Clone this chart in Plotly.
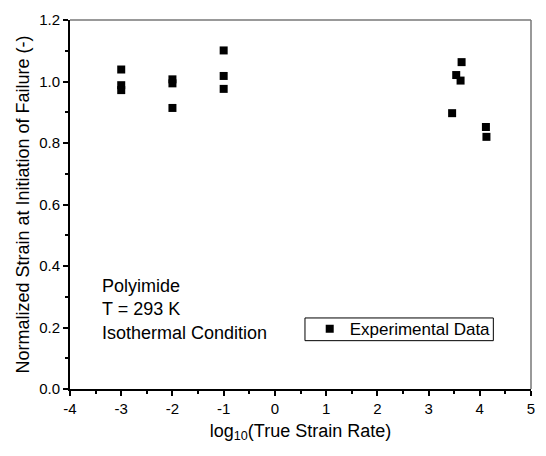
import plotly.graph_objects as go

log_rate = [-3, -3, -3, -2, -2, -2, -1, -1, -1, 3.645, 3.54, 3.625, 3.46, 4.12, 4.13]
norm_strain = [1.039, 0.988, 0.972, 1.007, 0.994, 0.914, 1.101, 1.018, 0.976,
               1.063, 1.021, 1.003, 0.897, 0.852, 0.820]

x_ticks = [-4, -3, -2, -1, 0, 1, 2, 3, 4, 5]
y_ticks = [0.0, 0.2, 0.4, 0.6, 0.8, 1.0, 1.2]

font = "Liberation Sans, Arial, sans-serif"

fig = go.Figure()
fig.add_trace(go.Scatter(
    x=log_rate, y=norm_strain, mode="markers", name="Experimental Data",
    marker=dict(symbol="square", size=8, color="black", line=dict(width=0)),
))

fig.update_layout(
    width=546, height=456,
    margin=dict(l=70, r=11, t=15, b=67),
    paper_bgcolor="white", plot_bgcolor="white",
    font=dict(family=font, size=14, color="black"),
    showlegend=True,
    legend=dict(x=0.52, y=0.162, xanchor="left", yanchor="middle",
                borderwidth=0, bgcolor="rgba(0,0,0,0)",
                font=dict(size=17), tracegroupgap=0),
    annotations=[dict(
        x=0.066, y=0.313, xref="paper", yref="paper", xanchor="left", yanchor="top",
        text="Polyimide<br>T = 293 K<br>Isothermal Condition",
        showarrow=False, align="left", font=dict(size=18, family=font))],
    shapes=[
        dict(type="line", xref="paper", yref="paper", x0=0, x1=1, y0=1, y1=1,
             line=dict(color="#777", width=1.5)),
        dict(type="line", xref="paper", yref="paper", x0=1, x1=1, y0=0, y1=1,
             line=dict(color="#777", width=1.5)),
        dict(type="rect", xref="paper", yref="paper", x0=0.5097, x1=0.9183,
             y0=0.131, y1=0.1925, line=dict(color="black", width=1), layer="below"),
    ],
)
fig.update_xaxes(
    range=[-4, 5], tickvals=x_ticks, ticktext=[str(v) for v in x_ticks],
    showline=True, linecolor="black", linewidth=2, showgrid=False, zeroline=False,
    ticks="outside", ticklen=5, tickwidth=1.5, tickcolor="black",
    ticklabeloverflow="allow",
    minor=dict(ticks="outside", ticklen=3, dtick=0.5, tickcolor="black", showgrid=False),
    title=dict(text="log<sub>10</sub>(True Strain Rate)", font=dict(size=18), standoff=8),
    tickfont=dict(size=15),
)
fig.update_yaxes(
    range=[0, 1.2], tickvals=y_ticks, ticktext=[f"{v:.1f}" for v in y_ticks],
    showline=True, linecolor="black", linewidth=2, showgrid=False, zeroline=False,
    ticks="outside", ticklen=5, tickwidth=1.5, tickcolor="black",
    ticklabeloverflow="allow",
    minor=dict(ticks="outside", ticklen=3, dtick=0.1, tickcolor="black", showgrid=False),
    title=dict(text="Normalized Strain at Initiation of Failure (-)", font=dict(size=18), standoff=5),
    tickfont=dict(size=15),
)

fig.write_html("out.html", config={"displayModeBar": False},
               post_script="document.body.style.margin='0';document.body.style.padding='0';")
